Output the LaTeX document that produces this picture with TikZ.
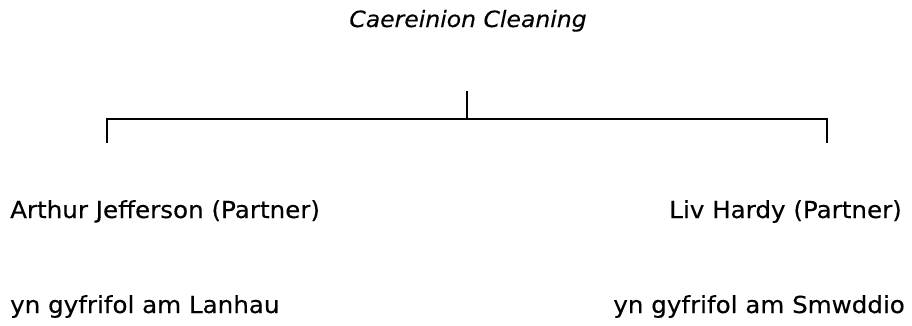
\documentclass[tikz,border=0pt]{standalone}
\usepackage{fontspec}
\setmainfont{DejaVu Sans}[FakeStretch=1.05,FakeBold=0.3]
\begin{document}
\begin{tikzpicture}[x=1bp,y=-1bp,
  lbl/.style={inner sep=0pt,font=\fontsize{23.4bp}{26bp}\selectfont},
  ttl/.style={lbl,font=\fontsize{22.4bp}{26bp}\selectfont\itshape},
  conn/.style={draw=black,line width=2bp}]
\useasboundingbox (0,0) rectangle (912,325);
\node[ttl,anchor=base] (title) at (468,27) {Caereinion Cleaning};
\node[lbl,anchor=base west] (arthur) at (10,218) {Arthur Jefferson (Partner)};
\node[lbl,anchor=base east] (liv) at (902,218) {Liv Hardy (Partner)};
\node[lbl,anchor=base west] (lanhau) at (10,313) {yn gyfrifol am Lanhau};
\node[lbl,anchor=base east] (smwddio) at (905,313) {yn gyfrifol am Smwddio};
\coordinate (top) at (467,91);
\coordinate (mid) at (467,119);
\coordinate (lt) at (107,119);
\coordinate (lb) at (107,143);
\coordinate (rt) at (827,119);
\coordinate (rb) at (827,143);
\draw[conn] (top) -- (mid);
\draw[conn] (lb) -- (lt) -- (rt) -- (rb);
\end{tikzpicture}
\end{document}
